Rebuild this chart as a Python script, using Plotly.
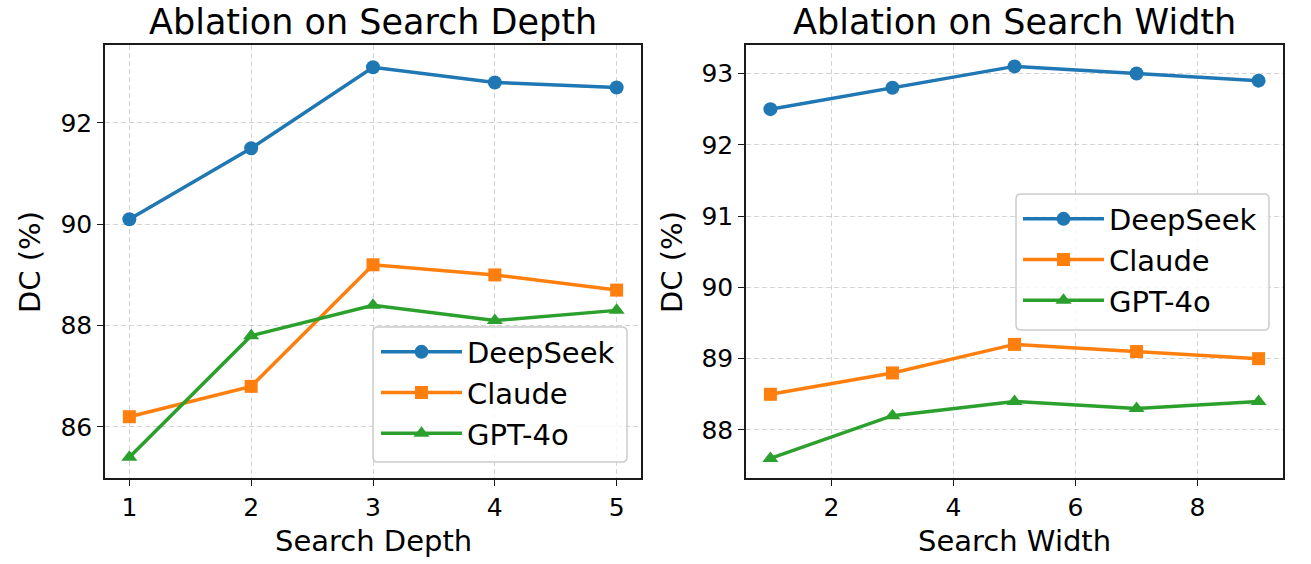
import plotly.graph_objects as go

depth_x = [1, 2, 3, 4, 5]
depth_deepseek = [90.1, 91.5, 93.1, 92.8, 92.7]
depth_claude = [86.2, 86.8, 89.2, 89.0, 88.7]
depth_gpt4o = [85.4, 87.8, 88.4, 88.1, 88.3]

width_x = [1, 3, 5, 7, 9]
width_deepseek = [92.5, 92.8, 93.1, 93.0, 92.9]
width_claude = [88.5, 88.8, 89.2, 89.1, 89.0]
width_gpt4o = [87.6, 88.2, 88.4, 88.3, 88.4]

series_names = ["DeepSeek", "Claude", "GPT-4o"]
colors = ["#1f77b4", "#ff7f0e", "#2ca02c"]
symbols = ["circle", "square", "triangle-up"]
msizes = [14, 13, 14]

W, H = 1311, 564
FONT = "DejaVu Sans"

fig = go.Figure()

for i, (name, ys) in enumerate(zip(series_names, [depth_deepseek, depth_claude, depth_gpt4o])):
    fig.add_trace(go.Scatter(
        x=depth_x, y=ys, name=name, mode="lines+markers",
        line=dict(color=colors[i], width=3.5),
        marker=dict(symbol=symbols[i], size=msizes[i], color=colors[i]),
        xaxis="x", yaxis="y", legend="legend"))

for i, (name, ys) in enumerate(zip(series_names, [width_deepseek, width_claude, width_gpt4o])):
    fig.add_trace(go.Scatter(
        x=width_x, y=ys, name=name, mode="lines+markers",
        line=dict(color=colors[i], width=3.5),
        marker=dict(symbol=symbols[i], size=msizes[i], color=colors[i]),
        xaxis="x2", yaxis="y2", legend="legend2"))

def px_x(p):
    return p / W

def px_y(p):
    return 1 - p / H

ydom = [px_y(478), px_y(45)]

axis_common = dict(
    showline=True, linecolor="#1a1a1a", linewidth=1.6, mirror=True,
    ticks="outside", ticklen=6, tickwidth=1.3, tickcolor="#1a1a1a",
    showgrid=True, gridcolor="rgba(176,176,176,0.55)", griddash="5px,3px", gridwidth=1.3,
    zeroline=False, tickfont=dict(family=FONT, size=25, color="black"),
)

legend_common = dict(xanchor="left", yanchor="middle",
                     bgcolor="rgba(0,0,0,0)", borderwidth=0,
                     font=dict(family=FONT, size=29, color="black"), itemwidth=81)

fig.update_layout(
    width=W, height=H,
    margin=dict(l=0, r=0, t=0, b=0),
    paper_bgcolor="white", plot_bgcolor="white",
    font=dict(family=FONT, color="black"),
    xaxis=dict(domain=[px_x(105), px_x(641)], range=[0.8, 5.2], tickvals=[1, 2, 3, 4, 5],
               anchor="y", **axis_common),
    yaxis=dict(domain=ydom, range=[84.99, 93.54], tickvals=[86, 88, 90, 92],
               anchor="x", **axis_common),
    xaxis2=dict(domain=[px_x(746), px_x(1283)], range=[0.6, 9.4], tickvals=[2, 4, 6, 8],
                anchor="y2", **axis_common),
    yaxis2=dict(domain=ydom, range=[87.326, 93.40], tickvals=[88, 89, 90, 91, 92, 93],
                anchor="x2", **axis_common),
    legend=dict(x=px_x(376), y=px_y(393), **legend_common),
    legend2=dict(x=px_x(1018), y=px_y(260), **legend_common),
    showlegend=True,
)

def rounded_box(x0, y0, x1, y1, r=5):
    X0, X1 = px_x(x0), px_x(x1)
    Y0, Y1 = px_y(y0), px_y(y1)
    rx, ry = r / W, r / H
    return (f"M {X0+rx},{Y0} L {X1-rx},{Y0} Q {X1},{Y0} {X1},{Y0-ry} "
            f"L {X1},{Y1+ry} Q {X1},{Y1} {X1-rx},{Y1} L {X0+rx},{Y1} "
            f"Q {X0},{Y1} {X0},{Y1+ry} L {X0},{Y0-ry} Q {X0},{Y0} {X0+rx},{Y0} Z")

for box in [(373, 327, 627, 462), (1016, 194, 1269, 330)]:
    fig.add_shape(type="path", path=rounded_box(*box), xref="paper", yref="paper",
                  fillcolor="rgba(255,255,255,0.8)", line=dict(color="#cccccc", width=1.5),
                  layer="above")

annotations = [
    dict(text="Ablation on Search Depth", x=px_x(373), y=px_y(22), size=35),
    dict(text="Ablation on Search Width", x=px_x(1015), y=px_y(22), size=35),
    dict(text="Search Depth", x=px_x(373), y=px_y(541), size=29),
    dict(text="Search Width", x=px_x(1015), y=px_y(541), size=29),
]
for a in annotations:
    fig.add_annotation(text=a["text"], x=a["x"], y=a["y"], xref="paper", yref="paper",
                       xanchor="center", yanchor="middle", showarrow=False,
                       font=dict(family=FONT, size=a["size"], color="black"))
for xp in [30, 672]:
    fig.add_annotation(text="DC (%)", x=px_x(xp), y=px_y(262), xref="paper", yref="paper",
                       xanchor="center", yanchor="middle", showarrow=False, textangle=-90,
                       font=dict(family=FONT, size=29, color="black"))

fig.write_html("out.html")
